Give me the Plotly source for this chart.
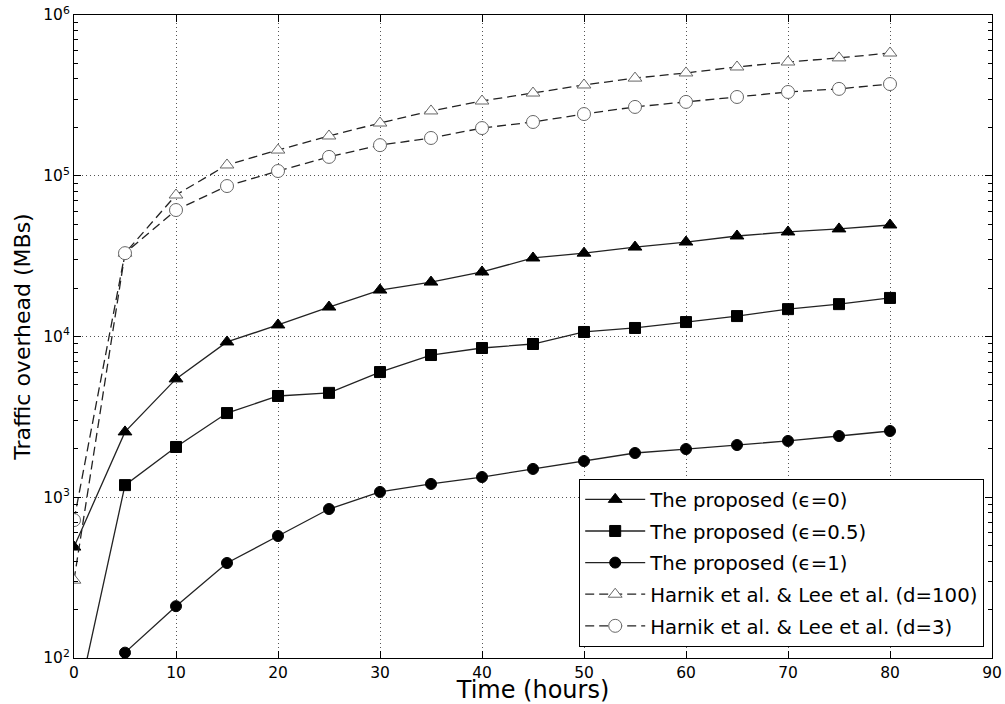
import plotly.graph_objects as go

hours = [0, 5, 10, 15, 20, 25, 30, 35, 40, 45, 50, 55, 60, 65, 70, 75, 80]

proposed_eps0 = [490, 2550, 5450, 9250, 11800, 15250, 19450, 21800, 25200, 30800,
                 33000, 36000, 38700, 42200, 44700, 46700, 49400]
proposed_eps05 = [42, 1190, 2055, 3340, 4265, 4460, 6010, 7670, 8480, 8980,
                  10670, 11300, 12300, 13400, 14800, 15900, 17370]
proposed_eps1 = [20, 108, 210, 390, 574, 845, 1079, 1210, 1336, 1500,
                 1680, 1885, 1995, 2113, 2240, 2405, 2583]
harnik_d100 = [305, 33000, 75900, 116700, 144500, 176800, 212800, 253000, 291700, 327000,
               367000, 405000, 436000, 475000, 510000, 541000, 580000]
harnik_d3 = [721, 33000, 61200, 86300, 107000, 131000, 155000, 171800, 198000, 216000,
             242000, 268000, 288000, 309000, 332000, 347000, 372000]

end_labels = ["48 GBs", "17 GBs", "2 GBs", "573 GBs", "359 GBs"]
names = ["The proposed (ϵ=0)", "The proposed (ϵ=0.5)", "The proposed (ϵ=1)",
         "Harnik et al. &amp; Lee et al. (d=100)", "Harnik et al. &amp; Lee et al. (d=3)"]

x_ticks = [0, 10, 20, 30, 40, 50, 60, 70, 80, 90]
y_major = [1e2, 1e3, 1e4, 1e5, 1e6]
y_labels = ["10<sup>2</sup>", "10<sup>3</sup>", "10<sup>4</sup>", "10<sup>5</sup>", "10<sup>6</sup>"]
y_minor = [k * 10 ** e for e in range(2, 6) for k in range(2, 10)]

series = [proposed_eps0, proposed_eps05, proposed_eps1, harnik_d100, harnik_d3]
styles = [
    dict(symbol="triangle-up", size=12, color="black", dash="solid", edge="black"),
    dict(symbol="square", size=11, color="black", dash="solid", edge="black"),
    dict(symbol="circle", size=11, color="black", dash="solid", edge="black"),
    dict(symbol="triangle-up", size=12, color="white", dash="dash", edge="#666666"),
    dict(symbol="circle", size=13, color="white", dash="dash", edge="#666666"),
]

FONT = "DejaVu Sans"
fig = go.Figure()
for i, (ys, nm, st) in enumerate(zip(series, names, styles)):
    fig.add_trace(go.Scatter(
        x=hours, y=ys, name=nm, mode="lines+markers", legendgroup=f"g{i}",
        line=dict(color="#222222", width=1.3, dash="9px,5px" if st["dash"] == "dash" else "solid"),
        marker=dict(symbol=st["symbol"], size=st["size"], color=st["color"],
                    line=dict(color=st["edge"], width=1)),
    ))

for ys, lab in zip(series, end_labels):
    fig.add_annotation(x=hours[-1], y=ys[-1], yref="y", xref="x", text=lab,
                       showarrow=False, xanchor="left", yanchor="middle",
                       xshift=7, yshift=-6, font=dict(family=FONT, size=16, color="#222222"))

GRID = dict(showgrid=True, gridcolor="#555555", griddash="1px,3px", gridwidth=1)
fig.update_xaxes(
    range=[0, 90], tickvals=x_ticks, ticks="inside", ticklen=7, tickcolor="black",
    showline=True, linecolor="black", linewidth=1, mirror="ticks",
    zeroline=False, tickfont=dict(family=FONT, size=15.5, color="black"),
    title=dict(text="Time (hours)", font=dict(family=FONT, size=24, color="black"), standoff=2),
    **GRID,
)
fig.update_yaxes(
    type="log", range=[2, 6], tickvals=y_major, ticktext=y_labels,
    ticks="inside", ticklen=7, tickcolor="black", ticklabeloverflow="allow",
    showline=True, linecolor="black", linewidth=1, mirror="ticks",
    minor=dict(tickvals=y_minor, ticks="inside", ticklen=4, tickcolor="black", showgrid=False),
    tickfont=dict(family=FONT, size=15.5, color="black"),
    title=dict(text="Traffic overhead (MBs)", font=dict(family=FONT, size=22, color="black"), standoff=6),
    **GRID,
)

fig.update_layout(
    width=1005, height=704,
    margin=dict(l=74, r=13, t=15, b=46, autoexpand=False),
    paper_bgcolor="white", plot_bgcolor="white",
    font=dict(family=FONT, size=16, color="black"),
    legend=dict(x=0.9915, y=0.017, xanchor="right", yanchor="bottom",
                bordercolor="black", borderwidth=1, bgcolor="white",
                font=dict(family=FONT, size=19.7, color="black"),
                tracegroupgap=3, itemwidth=60),
    showlegend=True,
)

# Remove the browser's default 8px body margin so the figure fills the window exactly.
fig.write_html("out.html", config={"displayModeBar": False},
               post_script="document.body.style.margin='0';document.body.style.overflow='hidden';")
